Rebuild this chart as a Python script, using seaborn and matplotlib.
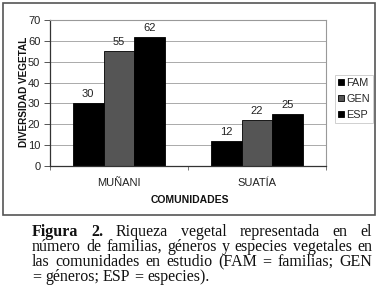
import matplotlib
matplotlib.use("Agg")
import matplotlib.pyplot as plt
import seaborn as sns
import pandas as pd
from matplotlib.patches import Rectangle

categories = ["MUÑANI", "SUATÍA"]
series = ["FAM", "GEN", "ESP"]
fam = [30, 12]
gen = [55, 22]
esp = [62, 25]
yticks = [0, 10, 20, 30, 40, 50, 60, 70]

rows = []
for i, c in enumerate(categories):
    for s, vals in zip(series, [fam, gen, esp]):
        rows.append({"comunidad": c, "serie": s, "valor": vals[i]})
df = pd.DataFrame(rows)

sns.set_theme(style="white")
plt.rcParams["font.family"] = ["Liberation Sans", "DejaVu Sans"]

W, H = 380, 288
fig = plt.figure(figsize=(3.8, 2.88), dpi=100)
fig.patch.set_facecolor("white")

# chart frame
fig.add_artist(Rectangle((3 / W, 1 - 215 / H), 372 / W, 212 / H, transform=fig.transFigure,
                         fill=False, edgecolor="#555555", linewidth=1.2))

ax = fig.add_axes([50 / W, 1 - 166 / H, 276 / W, 146 / H])
palette = {"FAM": "#000000", "GEN": "#555555", "ESP": "#000000"}
sns.barplot(data=df, x="comunidad", y="valor", hue="serie", palette=palette,
            order=categories, hue_order=series, width=0.67, edgecolor="black",
            linewidth=0.6, saturation=1, ax=ax, legend=True)

ax.set_ylim(0, 70)
ax.set_xlim(-0.5, 1.5)
ax.set_yticks(yticks)
ax.set_yticklabels([str(v) for v in yticks], fontsize=8, color="#222222")
ax.yaxis.grid(True, color="#aaaaaa", linewidth=0.7)
ax.set_axisbelow(True)
for name, sp in ax.spines.items():
    if name in ("left", "bottom"):
        sp.set_color("#333333")
        sp.set_linewidth(0.9)
    else:
        sp.set_color("#999999")
        sp.set_linewidth(0.8)
ax.tick_params(axis="y", which="major", direction="out", length=4, width=0.7,
               color="#555555", pad=3, left=True)
ax.tick_params(axis="x", which="major", length=0, pad=9, labelsize=8, labelcolor="#222222")
ax.set_xticks([-0.5, 0.5, 1.5], minor=True)
ax.tick_params(axis="x", which="minor", direction="out", length=3, width=0.7,
               color="#777777", bottom=True)

for cont in ax.containers:
    ax.bar_label(cont, padding=3, fontsize=8, color="#222222")

ax.set_ylabel("DIVERSIDAD VEGETAL", fontsize=7.2, fontweight="bold", color="#111111")
ax.yaxis.set_label_coords(24 / W, 1 - 92 / H, transform=fig.transFigure)
ax.yaxis.label.set_verticalalignment("center")
ax.set_xlabel("COMUNIDADES", fontsize=7.5, fontweight="bold", color="#111111")
ax.xaxis.set_label_coords(190 / W, 1 - 200 / H, transform=fig.transFigure)
ax.xaxis.label.set_verticalalignment("center")

leg = ax.legend(loc="upper left", bbox_to_anchor=(335 / W, 1 - 75 / H),
                bbox_transform=fig.transFigure, fontsize=7.8, frameon=True,
                handlelength=0.5, handleheight=0.5, handletextpad=0.25,
                borderpad=0.3, labelspacing=0.55, fancybox=False, borderaxespad=0)
leg.get_frame().set_edgecolor("#bbbbbb")
leg.get_frame().set_linewidth(0.6)

# caption (justified)
serif = ["Liberation Serif", "DejaVu Serif"]
lines = [
    [("Figura", "bold"), ("2.", "bold"), ("Riqueza", "normal"), ("vegetal", "normal"),
     ("representada", "normal"), ("en", "normal"), ("el", "normal")],
    [(w, "normal") for w in "número de familias, géneros y especies vegetales en".split()],
    [(w, "normal") for w in "las comunidades en estudio (FAM = familias; GEN".split()],
    [(w, "normal") for w in "= géneros; ESP = especies).".split()],
]
baselines = [236, 251, 266, 281]
x_left, x_right = 32, 372
fig.canvas.draw()
renderer = fig.canvas.get_renderer()

# fit font size so the second line fills the measure with normal spacing
probe = fig.text(0, 0, "número de familias, géneros y especies vegetales en",
                 fontsize=10, family=serif)
pw = probe.get_window_extent(renderer).width
probe.remove()
fs = 10 * (x_right - x_left) / pw * 0.98

for li, (words, yb) in enumerate(zip(lines, baselines)):
    texts = [fig.text(0, 1 - yb / H, w, fontsize=fs, fontweight=wt, family=serif,
                      va="baseline", ha="left", color="#111111") for w, wt in words]
    widths = [t.get_window_extent(renderer).width for t in texts]
    if li < len(lines) - 1:
        gap = (x_right - x_left - sum(widths)) / (len(words) - 1)
    else:
        gap = fs * 100 / 72 * 0.25
    x = x_left
    for t, wdt in zip(texts, widths):
        t.set_x(x / W)
        x += wdt + gap

fig.savefig("out.png", dpi=100, facecolor="white")
